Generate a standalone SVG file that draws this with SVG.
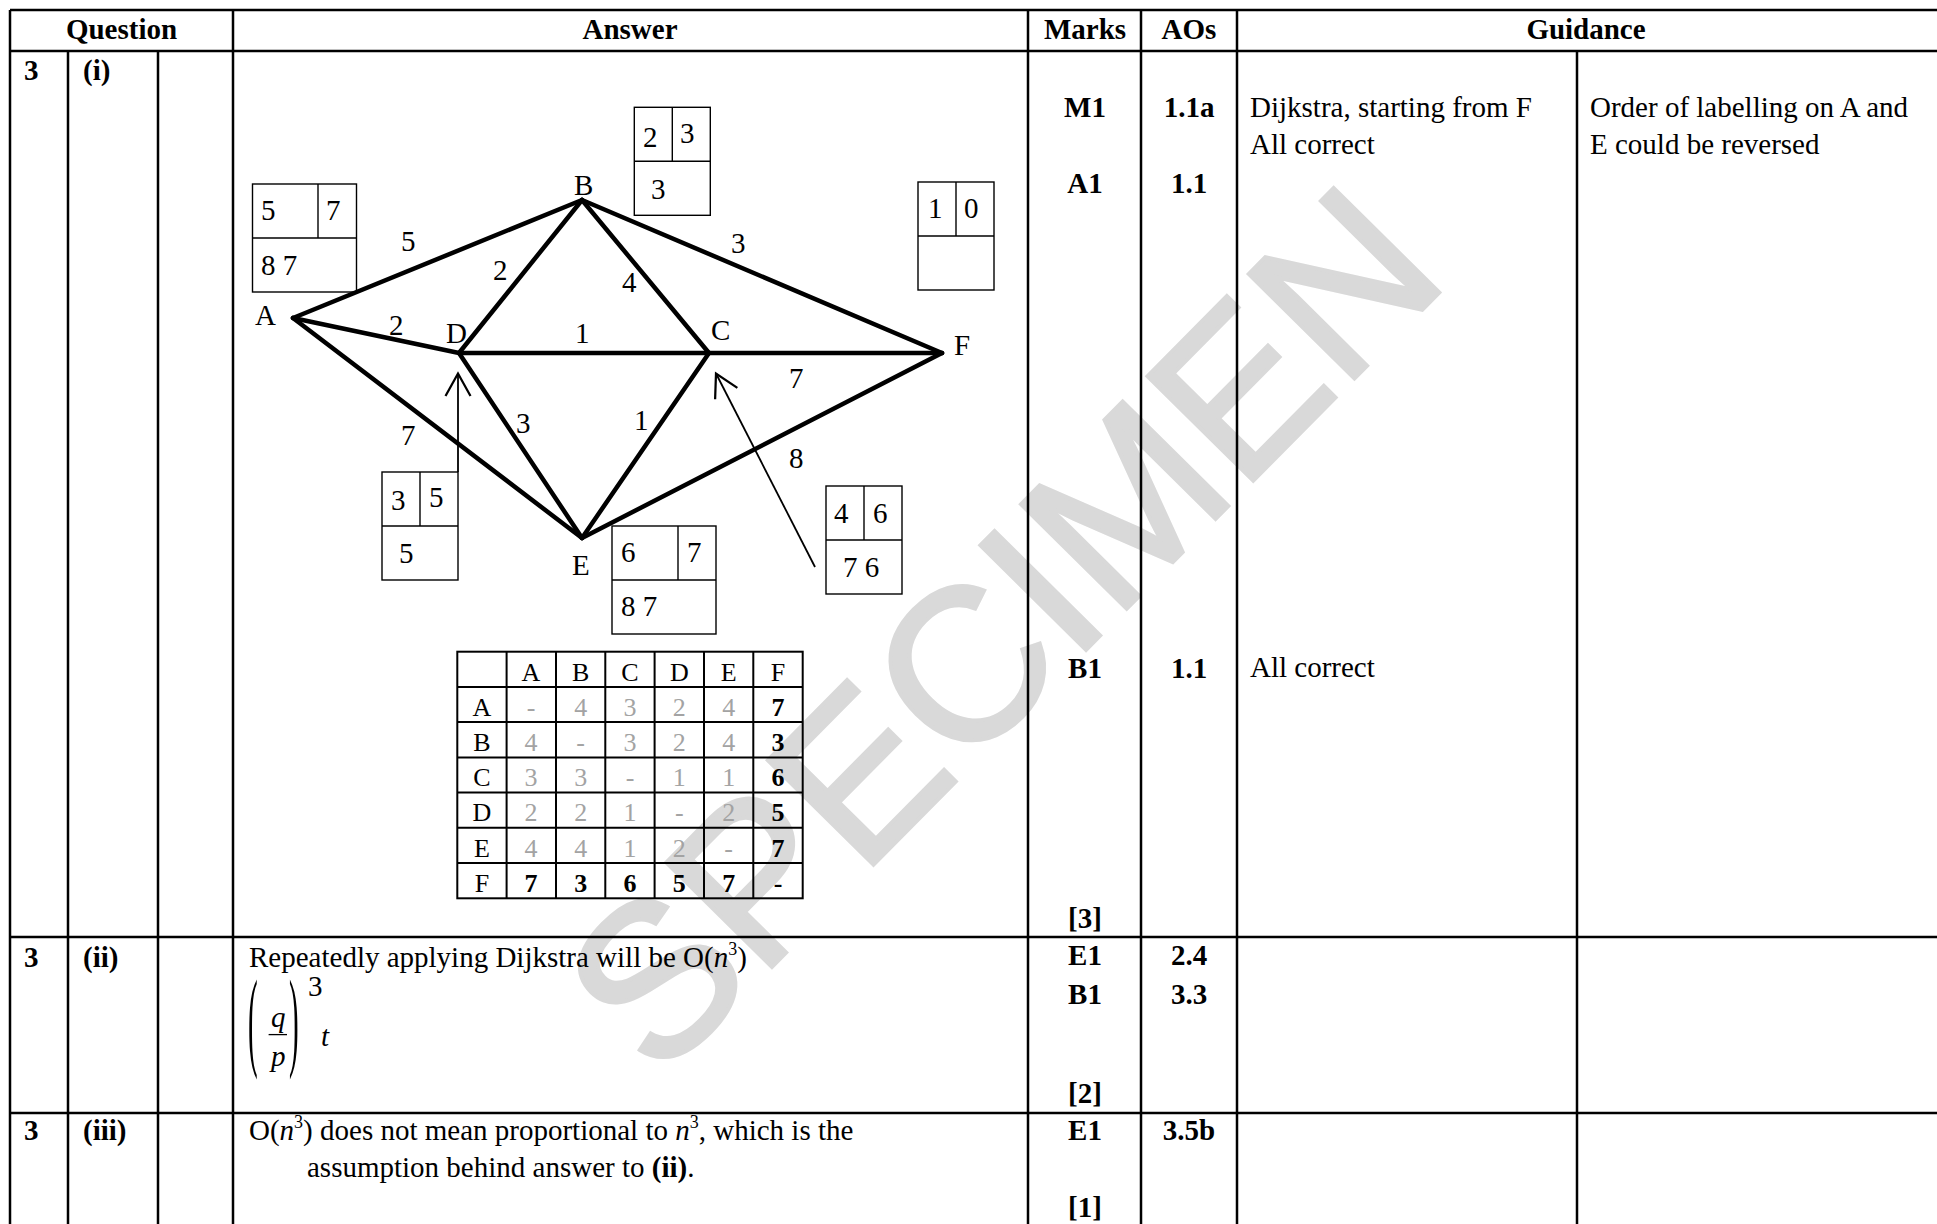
<svg xmlns="http://www.w3.org/2000/svg" width="1937" height="1224" viewBox="0 0 1937 1224">
<defs>
<style>
text{font-family:"Liberation Serif","Times New Roman",serif;font-size:29px;fill:#000}
.b{font-weight:bold}
.i{font-style:italic}
.m{text-anchor:middle}
.grid{stroke:#000;stroke-width:2.5;fill:none}
.edge{stroke:#000;stroke-width:4.5;stroke-linecap:round;fill:none}
.box{stroke:#000;stroke-width:1.4;fill:none}
.arrow{stroke:#000;stroke-width:1.8;fill:none}
.mt{stroke:#000;stroke-width:2;fill:none}
.mx{font-size:26px;text-anchor:middle}
.g{fill:#a3a3a3}
.wm{font-family:"Liberation Sans",Arial,sans-serif;font-size:216px;fill:#d9d9d9;stroke:#d9d9d9;stroke-width:4;text-anchor:middle}
</style>
<marker id="open" markerUnits="userSpaceOnUse" markerWidth="30" markerHeight="30" viewBox="-20 -12 22 24" refX="0" refY="0" orient="auto">
<path d="M-18,-10 L0,0 L-18,10" stroke="#000" stroke-width="1.8" fill="none"/>
</marker>
</defs>
<rect width="1937" height="1224" fill="#fff"/>
<text class="wm" x="1055" y="681" transform="rotate(-45.3 1055 681)">SPECIMEN</text>

<g id="table">
<line class="grid" x1="10" y1="10" x2="1937" y2="10"/>
<line class="grid" x1="10" y1="51" x2="1937" y2="51"/>
<line class="grid" x1="10" y1="937" x2="1937" y2="937"/>
<line class="grid" x1="10" y1="1113" x2="1937" y2="1113"/>
<line class="grid" x1="10" y1="10" x2="10" y2="1224"/>
<line class="grid" x1="68" y1="51" x2="68" y2="1224"/>
<line class="grid" x1="158" y1="51" x2="158" y2="1224"/>
<line class="grid" x1="233" y1="10" x2="233" y2="1224"/>
<line class="grid" x1="1028" y1="10" x2="1028" y2="1224"/>
<line class="grid" x1="1141" y1="10" x2="1141" y2="1224"/>
<line class="grid" x1="1237" y1="10" x2="1237" y2="1224"/>
<line class="grid" x1="1577" y1="51" x2="1577" y2="1224"/>
<text class="b m" x="121.5" y="39">Question</text>
<text class="b m" x="630" y="39">Answer</text>
<text class="b m" x="1085" y="39">Marks</text>
<text class="b m" x="1189" y="39">AOs</text>
<text class="b m" x="1586" y="39">Guidance</text>

<text class="b" x="24" y="80">3</text>
<text class="b" x="83" y="80">(i)</text>
<text class="b m" x="1085" y="117">M1</text>
<text class="b m" x="1189" y="117">1.1a</text>
<text x="1250" y="117">Dijkstra, starting from F</text>
<text x="1250" y="154">All correct</text>
<text x="1590" y="117">Order of labelling on A and</text>
<text x="1590" y="154">E could be reversed</text>
<text class="b m" x="1085" y="193">A1</text>
<text class="b m" x="1189" y="193">1.1</text>
<text class="b m" x="1085" y="678">B1</text>
<text class="b m" x="1189" y="678">1.1</text>
<text x="1250" y="677">All correct</text>
<text class="b m" x="1085" y="928">[3]</text>

<text class="b" x="24" y="967">3</text>
<text class="b" x="83" y="967">(ii)</text>
<text x="249" y="967">Repeatedly applying Dijkstra will be O(<tspan class="i">n</tspan><tspan font-size="18" dy="-12">3</tspan><tspan dy="12">)</tspan></text>
<text transform="translate(248,1056) scale(1,3.8)" x="0" y="0">(</text>
<text class="i" x="271" y="1027">q</text>
<line x1="268.6" y1="1034.6" x2="287" y2="1034.6" stroke="#000" stroke-width="1.3"/>
<text class="i" x="271" y="1066">p</text>
<text transform="translate(289,1056) scale(1,3.8)" x="0" y="0">)</text>
<text x="308" y="996" font-size="17">3</text>
<text class="i" x="321" y="1046">t</text>
<text class="b m" x="1085" y="965">E1</text>
<text class="b m" x="1189" y="965">2.4</text>
<text class="b m" x="1085" y="1004">B1</text>
<text class="b m" x="1189" y="1004">3.3</text>
<text class="b m" x="1085" y="1103">[2]</text>

<text class="b" x="24" y="1140">3</text>
<text class="b" x="83" y="1140">(iii)</text>
<text x="249" y="1140">O(<tspan class="i">n</tspan><tspan font-size="18" dy="-12">3</tspan><tspan dy="12">) does not mean proportional to </tspan><tspan class="i">n</tspan><tspan font-size="18" dy="-12">3</tspan><tspan dy="12">, which is the</tspan></text>
<text x="307" y="1177">assumption behind answer to <tspan class="b">(ii)</tspan>.</text>
<text class="b m" x="1085" y="1140">E1</text>
<text class="b m" x="1189" y="1140">3.5b</text>
<text class="b m" x="1085" y="1217">[1]</text>
</g>

<g id="connectors">
<line class="edge" x1="293" y1="318" x2="582" y2="200"/>
<line class="edge" x1="293" y1="318" x2="459" y2="353"/>
<line class="edge" x1="293" y1="318" x2="582" y2="538"/>
<line class="edge" x1="582" y1="200" x2="459" y2="353"/>
<line class="edge" x1="582" y1="200" x2="709" y2="353"/>
<line class="edge" x1="582" y1="200" x2="942" y2="353"/>
<line class="edge" x1="459" y1="353" x2="709" y2="353"/>
<line class="edge" x1="709" y1="353" x2="942" y2="353"/>
<line class="edge" x1="459" y1="353" x2="582" y2="538"/>
<line class="edge" x1="709" y1="353" x2="582" y2="538"/>
<line class="edge" x1="582" y1="538" x2="942" y2="353"/>
<text x="401" y="251">5</text>
<text x="493" y="280">2</text>
<text x="622" y="292">4</text>
<text x="731" y="253">3</text>
<text x="389" y="335">2</text>
<text x="575" y="343">1</text>
<text x="789" y="388">7</text>
<text x="401" y="445">7</text>
<text x="516" y="433">3</text>
<text x="634" y="430">1</text>
<text x="789" y="468">8</text>
<line class="arrow" x1="458" y1="472" x2="458" y2="373.5" marker-end="url(#open)"/>
<line class="arrow" x1="815" y1="567" x2="716" y2="373.5" marker-end="url(#open)"/>
</g>

<g id="node-A">
<text x="255" y="325">A</text>
<rect class="box" x="252.5" y="184" width="104" height="108"/>
<line class="box" x1="252.5" y1="238" x2="356.5" y2="238"/>
<line class="box" x1="318" y1="184" x2="318" y2="238"/>
<text x="261" y="220">5</text><text x="326" y="220">7</text><text x="261" y="275">8 7</text>
</g>
<g id="node-B">
<text x="574" y="195">B</text>
<rect class="box" x="634.3" y="107.3" width="76" height="108"/>
<line class="box" x1="634.3" y1="161.3" x2="710.3" y2="161.3"/>
<line class="box" x1="672.3" y1="107.3" x2="672.3" y2="161.3"/>
<text x="643" y="147">2</text><text x="680" y="143">3</text><text x="651" y="199">3</text>
</g>
<g id="node-C">
<text x="711" y="340">C</text>
<rect class="box" x="826" y="486" width="76" height="108"/>
<line class="box" x1="826" y1="540" x2="902" y2="540"/>
<line class="box" x1="864" y1="486" x2="864" y2="540"/>
<text x="834" y="523">4</text><text x="873" y="523">6</text><text x="843" y="577">7 6</text>
</g>
<g id="node-D">
<text x="446" y="343">D</text>
<rect class="box" x="382" y="472" width="76" height="108"/>
<line class="box" x1="382" y1="526" x2="458" y2="526"/>
<line class="box" x1="420" y1="472" x2="420" y2="526"/>
<text x="391" y="510">3</text><text x="429" y="507">5</text><text x="399" y="563">5</text>
</g>
<g id="node-E">
<text x="572" y="575">E</text>
<rect class="box" x="612" y="526" width="104" height="108"/>
<line class="box" x1="612" y1="580" x2="716" y2="580"/>
<line class="box" x1="678" y1="526" x2="678" y2="580"/>
<text x="621" y="562">6</text><text x="687" y="562">7</text><text x="621" y="616">8 7</text>
</g>
<g id="node-F">
<text x="954" y="355">F</text>
<rect class="box" x="918" y="182" width="76" height="108"/>
<line class="box" x1="918" y1="236" x2="994" y2="236"/>
<line class="box" x1="956" y1="182" x2="956" y2="236"/>
<text x="928" y="218">1</text><text x="964" y="218">0</text>
</g>

<g id="matrix">
<rect class="mt" x="457.3" y="651.7" width="345.4" height="246.6"/>
<path class="mt" d="M506.6,651.7V898.3M556,651.7V898.3M605.3,651.7V898.3M654.6,651.7V898.3M704,651.7V898.3M753.3,651.7V898.3M457.3,686.9H802.7M457.3,722.1H802.7M457.3,757.4H802.7M457.3,792.6H802.7M457.3,827.8H802.7M457.3,863.1H802.7"/>
<text class="mx" x="531" y="681">A</text><text class="mx" x="580.7" y="681">B</text><text class="mx" x="630" y="681">C</text><text class="mx" x="679.3" y="681">D</text><text class="mx" x="728.7" y="681">E</text><text class="mx" x="778" y="681">F</text>
<text class="mx" x="482" y="716">A</text><text class="mx g" x="531" y="716">-</text><text class="mx g" x="580.7" y="716">4</text><text class="mx g" x="630" y="716">3</text><text class="mx g" x="679.3" y="716">2</text><text class="mx g" x="728.7" y="716">4</text><text class="mx b" x="778" y="716">7</text>
<text class="mx" x="482" y="751">B</text><text class="mx g" x="531" y="751">4</text><text class="mx g" x="580.7" y="751">-</text><text class="mx g" x="630" y="751">3</text><text class="mx g" x="679.3" y="751">2</text><text class="mx g" x="728.7" y="751">4</text><text class="mx b" x="778" y="751">3</text>
<text class="mx" x="482" y="786">C</text><text class="mx g" x="531" y="786">3</text><text class="mx g" x="580.7" y="786">3</text><text class="mx g" x="630" y="786">-</text><text class="mx g" x="679.3" y="786">1</text><text class="mx g" x="728.7" y="786">1</text><text class="mx b" x="778" y="786">6</text>
<text class="mx" x="482" y="821">D</text><text class="mx g" x="531" y="821">2</text><text class="mx g" x="580.7" y="821">2</text><text class="mx g" x="630" y="821">1</text><text class="mx g" x="679.3" y="821">-</text><text class="mx g" x="728.7" y="821">2</text><text class="mx b" x="778" y="821">5</text>
<text class="mx" x="482" y="857">E</text><text class="mx g" x="531" y="857">4</text><text class="mx g" x="580.7" y="857">4</text><text class="mx g" x="630" y="857">1</text><text class="mx g" x="679.3" y="857">2</text><text class="mx g" x="728.7" y="857">-</text><text class="mx b" x="778" y="857">7</text>
<text class="mx" x="482" y="892">F</text><text class="mx b" x="531" y="892">7</text><text class="mx b" x="580.7" y="892">3</text><text class="mx b" x="630" y="892">6</text><text class="mx b" x="679.3" y="892">5</text><text class="mx b" x="728.7" y="892">7</text><text class="mx b" x="778" y="892">-</text>
</g>
</svg>
